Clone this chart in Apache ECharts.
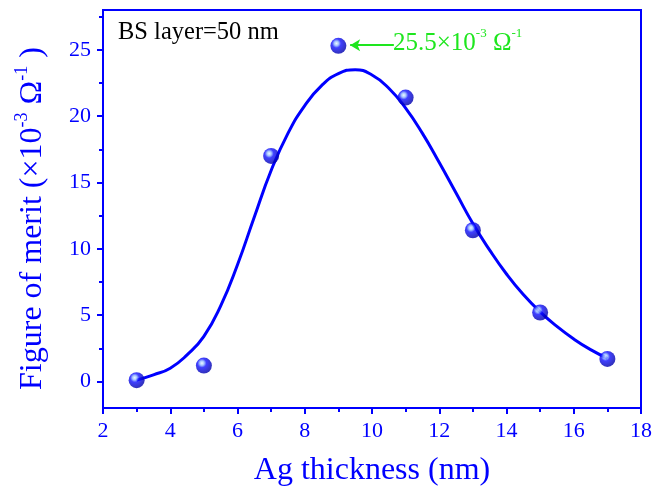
<!DOCTYPE html>
<html lang="en">
<head>
  <meta charset="UTF-8">
  <title>Figure of merit vs Ag thickness</title>
  <script src="https://cdnjs.cloudflare.com/ajax/libs/echarts/6.0.0/echarts.min.js"></script>
  <style>
    body { margin: 0; padding: 0; background: #fff; }
    #chart { width: 654px; height: 490px; }
  </style>
</head>
<body>
  <div id="chart"></div>
  <script>
    // measured points (Ag thickness nm, FoM x10^-3 ohm^-1)
    const thickness = [3, 5, 7, 9, 11, 13, 15, 17];
    const merit = [0.1, 1.2, 17.0, 25.3, 21.4, 11.4, 5.2, 1.7];

    // fitted curve, every 0.5 nm
    const fitX = [3.0, 3.5, 4.0, 4.5, 5.0, 5.5, 6.0, 6.5, 7.0, 7.5, 8.0, 8.5, 9.0, 9.5, 10.0, 10.5, 11.0, 11.5, 12.0, 12.5, 13.0, 13.5, 14.0, 14.5, 15.0, 15.5, 16.0, 16.5, 17.0];
    const fitY = [0.1, 0.5, 1.0, 2.0, 3.4, 5.7, 8.8, 12.4, 15.9, 18.7, 20.8, 22.3, 23.2, 23.5, 23.1, 22.1, 20.6, 18.7, 16.5, 14.2, 11.9, 9.9, 8.1, 6.55, 5.25, 4.15, 3.2, 2.4, 1.75];

    // tick values
    const yMajor = [0, 5, 10, 15, 20, 25];
    const yMinor = [2.5, 7.5, 12.5, 17.5, 22.5, 27.5];

    const blue = '#0000ff';
    const green = '#1ee61e';
    const serif = 'Liberation Serif';

    const chart = echarts.init(document.getElementById('chart'));

    const ball = {
      type: 'radial', x: 0.38, y: 0.35, r: 0.62,
      colorStops: [
        { offset: 0, color: '#e8f6ff' },
        { offset: 0.22, color: '#90b8ff' },
        { offset: 0.45, color: '#1010ff' },
        { offset: 1, color: '#0000b0' }
      ]
    };

    const option = {
      animation: false,
      grid: {
        left: 103, right: 13, top: 10, bottom: 82,
        outerBoundsMode: 'none',
        show: true, borderColor: blue, borderWidth: 2
      },
      xAxis: {
        type: 'value', min: 2, max: 18, interval: 2,
        name: 'Ag thickness (nm)',
        nameLocation: 'middle', nameGap: 47,
        nameTextStyle: { color: blue, fontFamily: serif, fontSize: 32 },
        axisLine: { onZero: false, lineStyle: { color: blue, width: 2 } },
        axisTick: { length: 6, lineStyle: { color: blue, width: 2 } },
        minorTick: { show: true, splitNumber: 2, length: 4, lineStyle: { color: blue, width: 2 } },
        axisLabel: { color: blue, fontFamily: serif, fontSize: 22, margin: 12 },
        splitLine: { show: false }
      },
      yAxis: [
        {
          type: 'value', min: -2, max: 28,
          name: '{a|Figure of merit (×10}{s|-3}{a| Ω}{s|-1}{a| )}',
          nameLocation: 'middle', nameGap: 54,
          nameTextStyle: {
            color: blue, fontFamily: serif,
            padding: [0, 19, 0, 0],
            rich: {
              a: { color: blue, fontFamily: serif, fontSize: 32, verticalAlign: 'bottom', lineHeight: 36 },
              s: { color: blue, fontFamily: serif, fontSize: 18, verticalAlign: 'top', lineHeight: 36 }
            }
          },
          axisLine: { onZero: false, lineStyle: { color: blue, width: 2 } },
          axisTick: { length: 6, customValues: yMajor, lineStyle: { color: blue, width: 2 } },
          axisLabel: { color: blue, fontFamily: serif, fontSize: 22, margin: 12, customValues: yMajor },
          splitLine: { show: false }
        },
        {
          type: 'value', min: -2, max: 28, position: 'left',
          axisLine: { show: false },
          axisTick: { show: true, length: 4, customValues: yMinor, lineStyle: { color: blue, width: 2 } },
          axisLabel: { show: false },
          splitLine: { show: false }
        }
      ],
      series: [
        {
          type: 'line',
          data: fitX.map((x, i) => [x, fitY[i]]),
          smooth: true,
          showSymbol: false,
          lineStyle: { color: blue, width: 3 },
          z: 2
        },
        {
          type: 'scatter',
          data: thickness.map((x, i) => [x, merit[i]]),
          symbolSize: 16,
          itemStyle: { color: ball },
          z: 3,
          markLine: {
            silent: true,
            symbol: ['none', 'arrow'],
            symbolSize: [9, 10],
            lineStyle: { color: green, width: 2, type: 'solid' },
            label: { show: false },
            data: [[{ coord: [10.65, 25.35] }, { coord: [9.35, 25.35] }]]
          }
        }
      ],
      graphic: [
        {
          type: 'text', left: 118, top: 20,
          style: { text: 'BS layer=50 nm', fill: '#000', font: '24.5px "Liberation Serif"' }
        },
        {
          type: 'text', left: 393, top: 27,
          style: {
            text: '{a|25.5×10}{s|-3}{a| Ω}{s|-1}',
            rich: {
              a: { fill: green, fontFamily: serif, fontSize: 25, verticalAlign: 'bottom', lineHeight: 29 },
              s: { fill: green, fontFamily: serif, fontSize: 13, verticalAlign: 'top', lineHeight: 29 }
            }
          }
        }
      ]
    };

    chart.setOption(option);
  </script>
</body>
</html>
